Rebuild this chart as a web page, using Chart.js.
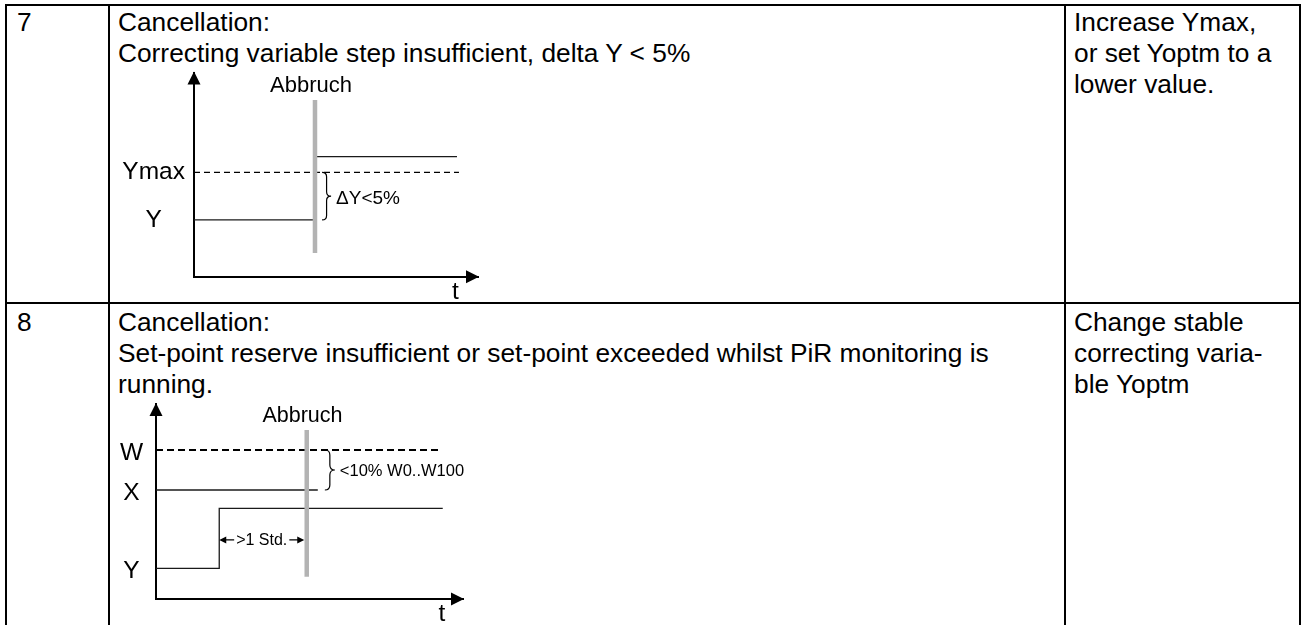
<!DOCTYPE html>
<html>
<head>
<meta charset="utf-8">
<script src="https://cdn.jsdelivr.net/npm/chart.js@4.4.1/dist/chart.umd.min.js"></script>
<style>
html,body{margin:0;padding:0;background:#fff;}
#page{position:relative;width:1306px;height:625px;overflow:hidden;font-family:"Liberation Sans",Arial,sans-serif;color:#000;}
.b{position:absolute;background:#000;}
.t{position:absolute;font-size:26.3px;line-height:31px;white-space:nowrap;}
canvas{position:absolute;}
</style>
</head>
<body>
<div id="page">
  <!-- table rules -->
  <div class="b" style="left:5px;top:4px;width:2px;height:621px"></div>
  <div class="b" style="left:108px;top:4px;width:2px;height:621px"></div>
  <div class="b" style="left:1064px;top:4px;width:2px;height:621px"></div>
  <div class="b" style="left:1299px;top:4px;width:2px;height:621px"></div>
  <div class="b" style="left:5px;top:4px;width:1296px;height:2px"></div>
  <div class="b" style="left:5px;top:302px;width:1296px;height:2px"></div>

  <!-- row 7 -->
  <div class="t" style="left:17px;top:7.4px">7</div>
  <div class="t" style="left:118px;top:7.4px">Cancellation:<br>Correcting variable step insufficient, delta Y &lt; 5%</div>
  <div class="t" style="left:1074px;top:7.4px">Increase Ymax,<br>or set Yoptm to a<br>lower value.</div>

  <!-- row 8 -->
  <div class="t" style="left:17px;top:307.4px">8</div>
  <div class="t" style="left:118px;top:307.4px">Cancellation:<br>Set-point reserve insufficient or set-point exceeded whilst PiR monitoring is<br>running.</div>
  <div class="t" style="left:1074px;top:307.4px">Change stable<br>correcting varia-<br>ble Yoptm</div>

  <canvas id="c7" width="390" height="238" style="left:110px;top:64px;width:390px;height:238px"></canvas>
  <canvas id="c8" width="380" height="229" style="left:110px;top:396px;width:380px;height:229px"></canvas>
</div>

<script>
// ---------- data: row 7 diagram (time 0..100, value 0..100) ----------
const r7LevelValues = [27.8, 51.1];          // Y, Ymax
const r7LevelLabels = ['Y', 'Ymax'];
const r7TimeTickValues = [92];
const r7TimeTickLabels = ['t'];
const r7LowT = [0, 41.9];
const r7LowV = [27.8, 27.8];
const r7HighT = [43.3, 92.6];
const r7HighV = [58.8, 58.8];
const r7LimitT = [0, 93.3];
const r7LimitV = [51.1, 51.1];
const r7CancelT = [42.6, 42.6];
const r7CancelV = [11.6, 86.5];

// ---------- data: row 8 diagram ----------
const r8LevelValues = [15.7, 55.9, 76.4];     // Y, X, W
const r8LevelLabels = ['Y', 'X', 'W'];
const r8TimeTickValues = [93.1];
const r8TimeTickLabels = ['t'];
const r8SetpointT = [0, 93.1];
const r8SetpointV = [76.4, 76.4];
const r8ActualT = [0, 52.7];
const r8ActualV = [55.9, 55.9];
const r8OutputT = [0, 20.6, 20.6, 93.4];
const r8OutputV = [15.7, 15.7, 46.5, 46.5];
const r8CancelT = [49.1, 49.1];
const r8CancelV = [11.4, 86.7];

const FONT = '"Liberation Sans", Arial, sans-serif';
const LINE = '#1a1a1a';
const GRAY = '#b3b3b3';

function pts(xs, ys) { return xs.map((x, i) => ({x: x, y: ys[i]})); }

function seg(xs, ys, color, width, dash, order) {
  return {
    type: 'line', data: pts(xs, ys), borderColor: color, borderWidth: width,
    borderDash: dash || [], pointRadius: 0, fill: false, tension: 0, order: order || 1,
    clip: false
  };
}

function brace(ctx, x, yTop, yBot, w) {
  const ym = (yTop + yBot) / 2, xs = x + w * 0.5, r = Math.min(w * 0.5, (yBot - yTop) / 4);
  ctx.beginPath();
  ctx.moveTo(x, yTop);
  ctx.quadraticCurveTo(xs, yTop, xs, yTop + r);
  ctx.lineTo(xs, ym - r);
  ctx.quadraticCurveTo(xs, ym, x + w, ym);
  ctx.quadraticCurveTo(xs, ym, xs, ym + r);
  ctx.lineTo(xs, yBot - r);
  ctx.quadraticCurveTo(xs, yBot, x, yBot);
  ctx.stroke();
}

function tri(ctx, a, b, c) {
  ctx.beginPath(); ctx.moveTo(a[0], a[1]); ctx.lineTo(b[0], b[1]); ctx.lineTo(c[0], c[1]); ctx.closePath(); ctx.fill();
}

// draws arrowheads on axes, the brace, the "Abbruch" label etc.
const diagramPlugin = {
  id: 'diagramExtras',
  afterDraw(chart, args, o) {
    const ctx = chart.ctx, xs = chart.scales.x, ys = chart.scales.y;
    const ox = xs.getPixelForValue(0), oy = ys.getPixelForValue(0);
    const tx = xs.getPixelForValue(100), ty = ys.getPixelForValue(100);
    ctx.save();
    ctx.fillStyle = '#000';
    // y-axis arrow
    tri(ctx, [ox, ty - 1], [ox - 6.5, ty + 12], [ox + 6.5, ty + 12]);
    // x-axis arrow
    tri(ctx, [tx + 1, oy], [tx - 12, oy - 6.5], [tx - 12, oy + 6.5]);

    // "Abbruch" label
    ctx.font = o.abbruchSize + 'px ' + FONT;
    ctx.textAlign = 'center';
    ctx.textBaseline = 'alphabetic';
    ctx.fillText('Abbruch', xs.getPixelForValue(o.abbruchT), ys.getPixelForValue(o.abbruchV));

    // brace
    ctx.strokeStyle = '#000';
    ctx.lineWidth = 1.2;
    const bx = xs.getPixelForValue(o.braceT);
    const y1 = ys.getPixelForValue(o.braceFrom), y2 = ys.getPixelForValue(o.braceTo);
    brace(ctx, bx, Math.min(y1, y2), Math.max(y1, y2), o.braceDepth);
    ctx.font = o.braceSize + 'px ' + FONT;
    ctx.textAlign = 'left';
    ctx.textBaseline = 'middle';
    ctx.fillText(o.braceText, bx + o.braceDepth + 5, (y1 + y2) / 2 + o.braceTextDy);

    // time-span dimension
    if (o.span) {
      const s = o.span;
      const xa = xs.getPixelForValue(s.from), xb = xs.getPixelForValue(s.to) - 2.5;
      const y = ys.getPixelForValue(s.v);
      ctx.font = s.size + 'px ' + FONT;
      const w = ctx.measureText(s.text).width;
      const xm = (xa + xb) / 2;
      ctx.textAlign = 'center';
      ctx.textBaseline = 'middle';
      ctx.fillText(s.text, xm, y + 1);
      ctx.lineWidth = 1.2;
      ctx.beginPath();
      ctx.moveTo(xa + 2, y); ctx.lineTo(xm - w / 2 - 2, y);
      ctx.moveTo(xm + w / 2 + 2, y); ctx.lineTo(xb - 2, y);
      ctx.stroke();
      tri(ctx, [xa, y], [xa + 7, y - 3.5], [xa + 7, y + 3.5]);
      tri(ctx, [xb, y], [xb - 7, y - 3.5], [xb - 7, y + 3.5]);
    }
    ctx.restore();
  }
};

function makeChart(id, cfg) {
  return new Chart(document.getElementById(id), {
    type: 'line',
    data: { datasets: cfg.datasets },
    options: {
      responsive: false, animation: false, devicePixelRatio: 1, events: [],
      layout: { padding: cfg.padding },
      plugins: { legend: { display: false }, tooltip: { enabled: false }, diagramExtras: cfg.extras },
      scales: {
        x: {
          type: 'linear', min: 0, max: 100, position: 'bottom',
          grid: { display: false, drawTicks: false },
          border: { display: true, color: '#000', width: 2 },
          afterBuildTicks: s => { s.ticks = cfg.xTickValues.map(v => ({ value: v })); },
          ticks: { callback: (v, i) => cfg.xTickLabels[i], font: { family: FONT, size: 24.5 }, color: '#000',
                   padding: 1, autoSkip: false, maxRotation: 0 },
          afterFit: s => { s.height = cfg.xAxisHeight; s.paddingLeft = 0; s.paddingRight = 0; }
        },
        y: {
          type: 'linear', min: 0, max: 100, position: 'left',
          grid: { display: false, drawTicks: false },
          border: { display: true, color: '#000', width: 2 },
          afterBuildTicks: s => { s.ticks = cfg.yTickValues.map(v => ({ value: v })); },
          ticks: { callback: (v, i) => cfg.yTickLabels[i], font: { family: FONT, size: 24.5 }, color: '#000',
                   padding: cfg.yTickPadding, crossAlign: 'center', autoSkip: false,
                   labelOffset: cfg.yLabelOffset },
          afterFit: s => { s.width = cfg.yAxisWidth; s.paddingTop = 0; s.paddingBottom = 0; }
        }
      }
    },
    plugins: [diagramPlugin]
  });
}

makeChart('c7', {
  datasets: [
    seg(r7CancelT, r7CancelV, GRAY, 4.5, null, 0),
    seg(r7LowT, r7LowV, LINE, 1.3, null, 1),
    seg(r7HighT, r7HighV, LINE, 1.3, null, 1),
    seg(r7LimitT, r7LimitV, '#000', 1.3, [6, 4], 1)
  ],
  padding: { top: 8.5, right: 22, left: 0, bottom: 0 },
  xTickValues: r7TimeTickValues, xTickLabels: r7TimeTickLabels,
  yTickValues: r7LevelValues, yTickLabels: r7LevelLabels,
  xAxisHeight: 25.3, yAxisWidth: 84, yTickPadding: 9, yLabelOffset: 0,
  extras: {
    abbruchT: 41.2, abbruchV: 90.6, abbruchSize: 22,
    braceT: 45.1, braceFrom: r7LimitV[0], braceTo: r7LowV[0], braceDepth: 9,
    braceText: '\u0394Y<5%', braceSize: 19, braceTextDy: 3
  }
});

makeChart('c8', {
  datasets: [
    seg(r8CancelT, r8CancelV, GRAY, 4.5, null, 0),
    seg(r8ActualT, r8ActualV, LINE, 1.3, null, 1),
    seg(r8OutputT, r8OutputV, LINE, 1.3, null, 1),
    seg(r8SetpointT, r8SetpointV, '#000', 2, [7, 4], 1)
  ],
  padding: { top: 8, right: 27, left: 0, bottom: 0 },
  xTickValues: r8TimeTickValues, xTickLabels: r8TimeTickLabels,
  yTickValues: r8LevelValues, yTickLabels: r8LevelLabels,
  xAxisHeight: 26, yAxisWidth: 46, yTickPadding: 13, yLabelOffset: 3,
  extras: {
    abbruchT: 47.7, abbruchV: 90.9, abbruchSize: 21.5,
    braceT: 55.0, braceFrom: r8SetpointV[0], braceTo: r8ActualV[0], braceDepth: 10,
    braceText: '<10% W0..W100', braceSize: 16.5, braceTextDy: 1,
    span: { from: r8OutputT[1], to: r8CancelT[0], v: 30.3, text: '>1 Std.', size: 16 }
  }
});
</script>
</body>
</html>
